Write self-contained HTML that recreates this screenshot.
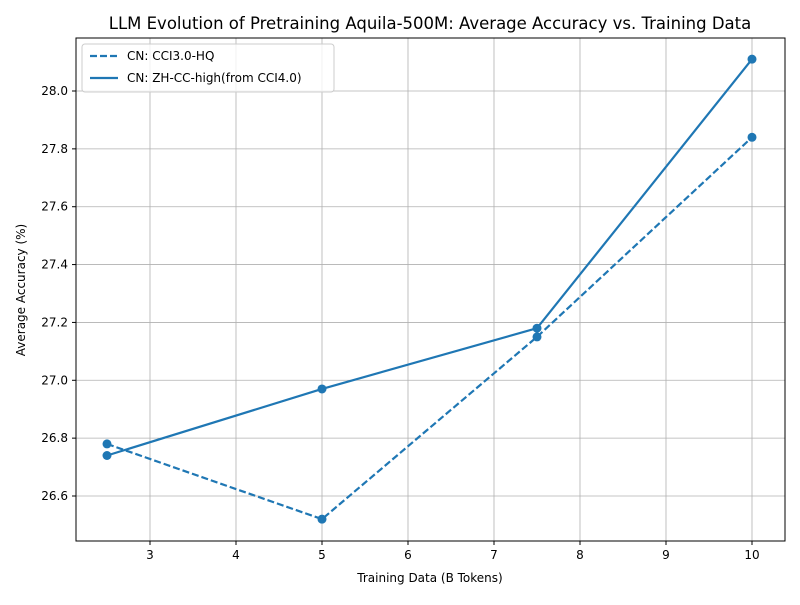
<!DOCTYPE html>
<html><head><meta charset="utf-8"><style>
body{margin:0;background:#fff;font-family:"Liberation Sans","DejaVu Sans",sans-serif;}
svg text{font-family:"DejaVu Sans","Liberation Sans",sans-serif;}
</style></head><body>
<svg id="chart" width="800" height="600">
<rect width="800" height="600" fill="#fff"/>
<text x="430" y="29" font-size="16.5" text-anchor="middle">LLM Evolution of Pretraining Aquila-500M: Average Accuracy vs. Training Data</text>
<g id="grid"></g><g id="ticks"></g><g id="series"></g>
<rect x="76" y="38" width="709" height="503" fill="none" stroke="#000" stroke-width="1"/>
<text x="430" y="582" font-size="12" text-anchor="middle">Training Data (B Tokens)</text>
<text transform="translate(25,290) rotate(-90)" font-size="12" text-anchor="middle">Average Accuracy (%)</text>
<g>
<rect x="82" y="44" width="252" height="48" rx="3" fill="#fff" fill-opacity="0.8" stroke="#ccc"/>
<line x1="90" y1="56" x2="118" y2="56" stroke="#1f77b4" stroke-width="2.2" stroke-dasharray="7,3"/>
<text x="127" y="60" font-size="12">CN: CCI3.0-HQ</text>
<line x1="90" y1="78" x2="118" y2="78" stroke="#1f77b4" stroke-width="2.2"/>
<text x="127" y="82" font-size="12">CN: ZH-CC-high(from CCI4.0)</text>
</g>
</svg>
<script>
const xValues=[2.5,5,7.5,10];
const cci3Values=[26.78,26.52,27.15,27.84];
const zhccValues=[26.74,26.97,27.18,28.11];
const xTicks=[3,4,5,6,7,8,9,10];
const yTicks=[26.6,26.8,27.0,27.2,27.4,27.6,27.8,28.0];
const NS="http://www.w3.org/2000/svg";
const sx=v=>150+(v-3)*86;
const sy=v=>496-(v-26.6)*(405/1.4);
function mk(t,a,p){const e=document.createElementNS(NS,t);for(const k in a)e.setAttribute(k,a[k]);p.appendChild(e);return e;}
const grid=document.getElementById('grid'),ticks=document.getElementById('ticks'),ser=document.getElementById('series');
xTicks.forEach(v=>{const x=sx(v);
const g=mk('line',{x1:x,x2:x,y1:38,y2:541,stroke:'#b0b0b0','stroke-width':0.8},grid);


mk('line',{x1:x,x2:x,y1:541,y2:545,stroke:'#000'},ticks);
const t=mk('text',{x:x,y:559,'font-size':12,'text-anchor':'middle'},ticks);t.textContent=v;

});
yTicks.forEach(v=>{const y=sy(v);
const g=mk('line',{x1:76,x2:785,y1:y,y2:y,stroke:'#b0b0b0','stroke-width':0.8},grid);


mk('line',{x1:72,x2:76,y1:y,y2:y,stroke:'#000'},ticks);
const t=mk('text',{x:68,y:y+4,'font-size':12,'text-anchor':'end'},ticks);t.textContent=v.toFixed(1);

});
function series(vals,dash,name){
const pts=vals.map((v,i)=>sx(xValues[i])+','+sy(v)).join(' ');
const a={points:pts,fill:'none',stroke:'#1f77b4','stroke-width':2.2};if(dash)a['stroke-dasharray']='7,3';
const l=mk('polyline',a,ser);


vals.forEach((v,i)=>{const c=mk('circle',{cx:sx(xValues[i]),cy:sy(v),r:4.5,fill:'#1f77b4'},ser);

});}
series(cci3Values,true,'cci3');
series(zhccValues,false,'zhcc');
</script>
</body></html>
